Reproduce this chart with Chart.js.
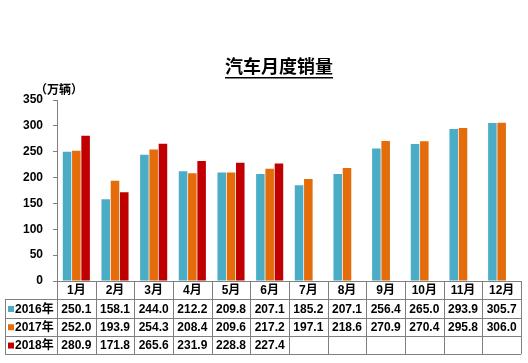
<!DOCTYPE html>
<html>
<head>
<meta charset="utf-8">
<script src="https://cdn.jsdelivr.net/npm/chart.js@4/dist/chart.umd.min.js"></script>
<style>
  html, body { margin: 0; padding: 0; background: #fff; }
  #wrap { width: 528px; height: 363px; position: relative; }
</style>
</head>
<body>
<div id="wrap"><canvas id="c"></canvas></div>
<script>
const months = ["1月", "2月", "3月", "4月", "5月", "6月", "7月", "8月", "9月", "10月", "11月", "12月"];
const sales2016 = [250.1, 158.1, 244.0, 212.2, 209.8, 207.1, 185.2, 207.1, 256.4, 265.0, 293.9, 305.7];
const sales2017 = [252.0, 193.9, 254.3, 208.4, 209.6, 217.2, 197.1, 218.6, 270.9, 270.4, 295.8, 306.0];
const sales2018 = [280.9, 171.8, 265.6, 231.9, 228.8, 227.4, null, null, null, null, null, null];
const yTicks = [0, 50, 100, 150, 200, 250, 300, 350];

const COLORS = ["#4bacc6", "#e46c0a", "#c00000"];
const FONT = "'Liberation Sans', Arial, 'Noto Sans CJK SC', sans-serif";

// draws title, unit label and the data table under the bars
const tablePlugin = {
  id: "dataTable",
  afterDraw(chart) {
    const ctx = chart.ctx;
    const area = chart.chartArea;
    const ds = chart.data.datasets;
    const colW = (area.right - area.left) / months.length;
    const rowH = 18.3;
    const top = area.bottom;
    const tableLeft = 5;

    ctx.save();

    // title
    ctx.fillStyle = "#000";
    ctx.font = "bold 18px 'Noto Sans CJK SC', sans-serif";
    ctx.textAlign = "center";
    ctx.textBaseline = "middle";
    const title = "汽车月度销量";
    ctx.fillText(title, 279, 66);
    const tw = ctx.measureText(title).width;
    ctx.fillRect(279 - tw / 2, 77, tw, 1.5);

    // unit
    ctx.font = "bold 12px 'Noto Sans CJK SC', sans-serif";
    ctx.textAlign = "left";
    ctx.fillText("（万辆）", 35, 89);

    // grid lines
    ctx.strokeStyle = "#7f7f7f";
    ctx.lineWidth = 1;
    ctx.beginPath();
    for (let r = 0; r <= 4; r++) {
      const y = Math.round(top + r * rowH) + 0.5;
      ctx.moveTo(r === 0 ? area.left : tableLeft, y);
      ctx.lineTo(area.right, y);
    }
    for (let i = 0; i <= months.length; i++) {
      const x = Math.round(area.left + i * colW) + 0.5;
      ctx.moveTo(x, top);
      ctx.lineTo(x, top + 4 * rowH);
    }
    const lx = tableLeft + 0.5;
    ctx.moveTo(lx, top + rowH);
    ctx.lineTo(lx, top + 4 * rowH);
    ctx.stroke();

    // month header
    ctx.fillStyle = "#000";
    ctx.textAlign = "center";
    ctx.font = "bold 12px " + FONT;
    months.forEach((m, i) => {
      ctx.fillText(m, area.left + (i + 0.5) * colW, top + rowH / 2 + 1);
    });

    // series rows
    ds.forEach((d, r) => {
      const yc = top + (r + 1.5) * rowH + 1;
      ctx.fillStyle = d.backgroundColor;
      ctx.fillRect(8, yc - 3.5, 6, 6);
      ctx.fillStyle = "#000";
      ctx.textAlign = "left";
      ctx.font = "bold 12px " + FONT;
      ctx.fillText(d.label, 15, yc);
      ctx.textAlign = "center";
      d.data.forEach((v, i) => {
        if (v === null) return;
        ctx.fillText(v.toFixed(1), area.left + (i + 0.5) * colW, yc);
      });
    });

    ctx.restore();
  },
};

new Chart(document.getElementById("c"), {
  type: "bar",
  data: {
    labels: months,
    datasets: [
      { label: "2016年", data: sales2016, backgroundColor: COLORS[0] },
      { label: "2017年", data: sales2017, backgroundColor: COLORS[1] },
      { label: "2018年", data: sales2018, backgroundColor: COLORS[2] },
    ],
  },
  options: {
    responsive: true,
    maintainAspectRatio: false,
    animation: false,
    layout: { padding: { top: 100, bottom: 74, left: 0, right: 7 } },
    datasets: {
      bar: { categoryPercentage: 0.72, barPercentage: 0.92 },
    },
    scales: {
      x: {
        grid: { display: false },
        ticks: { display: false },
        border: { display: true, color: "#7f7f7f" },
      },
      y: {
        min: 0,
        max: 350,
        afterBuildTicks(scale) {
          scale.ticks = yTicks.map((v) => ({ value: v }));
        },
        afterFit(scale) {
          scale.width = 57;
        },
        grid: {
          drawOnChartArea: false,
          drawTicks: true,
          tickLength: 4,
          color: "#7f7f7f",
        },
        border: { color: "#7f7f7f" },
        ticks: {
          padding: 10,
          color: "#000",
          font: { family: FONT, size: 12, weight: "bold" },
        },
      },
    },
    plugins: {
      legend: { display: false },
      title: { display: false },
      tooltip: { enabled: false },
    },
  },
  plugins: [tablePlugin],
});
</script>
</body>
</html>
